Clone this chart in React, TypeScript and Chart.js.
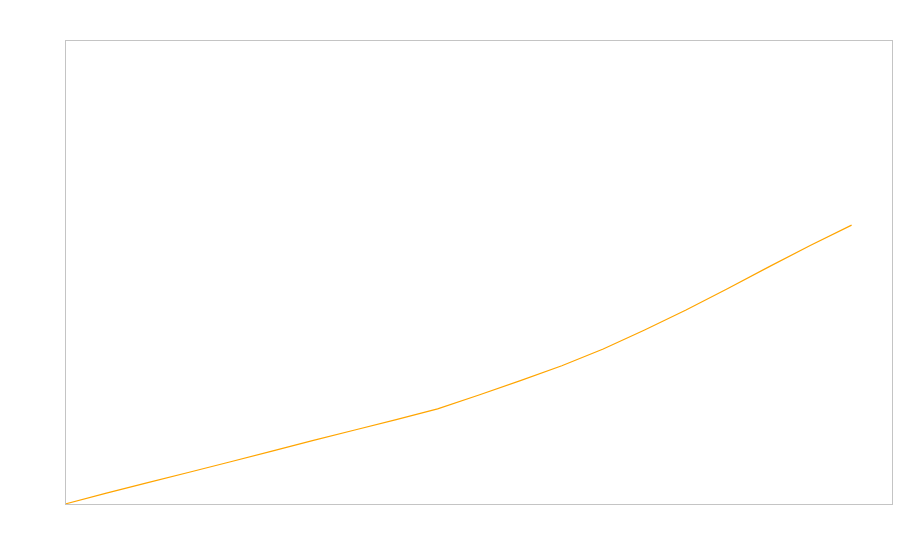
import React, { useEffect, useRef } from "react";
import { Chart, registerables } from "chart.js";

Chart.register(...registerables);

const xValues = [0, 1, 2, 3, 4, 5, 6, 7, 8, 9, 10, 11, 12, 13, 14, 15, 16, 17, 18, 19];
const yValues = [0, 2.35, 4.6, 6.85, 9.1, 11.4, 13.7, 15.95, 18.2, 20.5, 23.5, 26.6, 29.8, 33.4, 37.5, 41.8, 46.4, 51.1, 55.7, 60.1];

const frameBorder = {
  id: "frameBorder",
  afterDraw(chart: any) {
    const { ctx, chartArea } = chart;
    ctx.save();
    ctx.strokeStyle = "#c4c4c4";
    ctx.lineWidth = 1;
    ctx.strokeRect(
      chartArea.left + 0.5,
      chartArea.top + 0.5,
      chartArea.right - chartArea.left - 1,
      chartArea.bottom - chartArea.top
    );
    ctx.restore();
  },
};

export default function App() {
  const ref = useRef<HTMLCanvasElement>(null);
  useEffect(() => {
    if (!ref.current) return;
    const chart = new Chart(ref.current, {
      type: "line",
      data: {
        datasets: [
          {
            data: xValues.map((x, i) => ({ x, y: yValues[i] })),
            borderColor: "#FFA500",
            borderWidth: 1.2,
            pointRadius: 0,
            tension: 0,
            fill: false,
          },
        ],
      },
      options: {
        animation: false,
        responsive: false,
        maintainAspectRatio: false,
        layout: { padding: { left: 65, top: 40, right: 7, bottom: 56 } },
        plugins: { legend: { display: false }, tooltip: { enabled: false } },
        scales: {
          x: { type: "linear", min: 0, max: 20, display: false },
          y: { type: "linear", min: 0, max: 100, display: false },
        },
      },
      plugins: [frameBorder],
    });
    return () => chart.destroy();
  }, []);
  return (
    <div style={{ position: "absolute", left: 0, top: 0, width: 900, height: 560, background: "#fff" }}>
      <canvas ref={ref} width={900} height={560} style={{ width: 900, height: 560, display: "block" }} />
    </div>
  );
}
